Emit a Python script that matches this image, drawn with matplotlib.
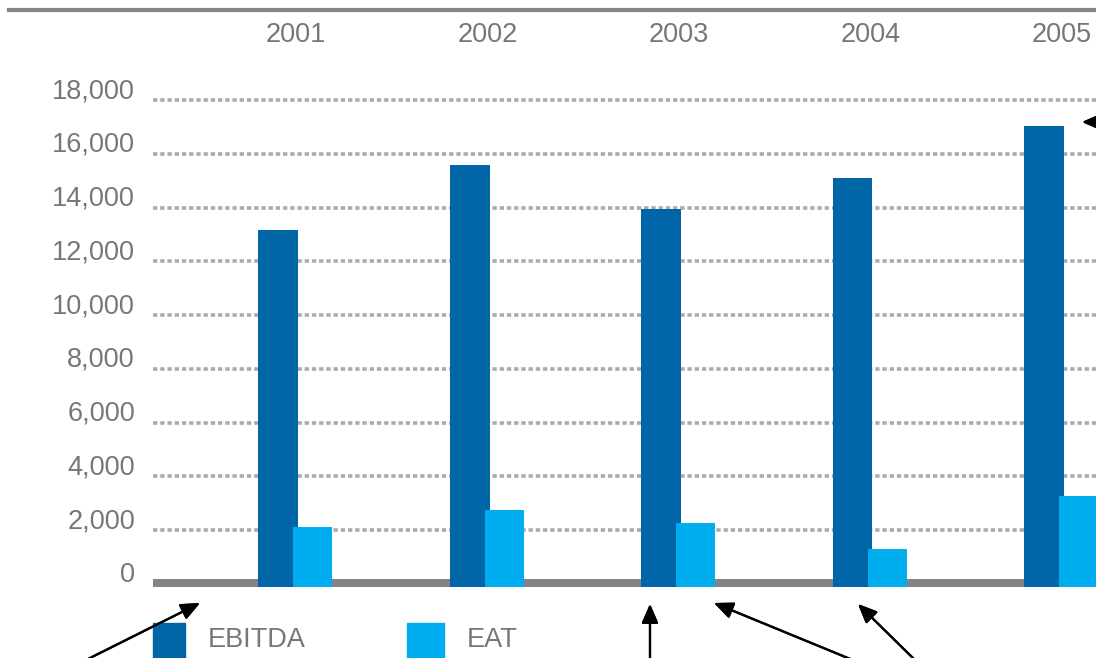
import matplotlib.pyplot as plt
from matplotlib.transforms import ScaledTranslation

years = ['2001', '2002', '2003', '2004', '2005']
ebitda = [13170, 15580, 13950, 15100, 17030]
eat = [2120, 2750, 2270, 1300, 3270]
y_ticks = [0, 2000, 4000, 6000, 8000, 10000, 12000, 14000, 16000, 18000]

dark_blue = '#0066a8'
light_blue = '#00adef'
grey = '#838388'
text_grey = '#777777'

plt.rcParams['font.family'] = ['Liberation Sans', 'DejaVu Sans']

W, H = 1096, 658
fig = plt.figure(figsize=(W / 100, H / 100), dpi=100)

# pixel layout of the plot area
zero_px, top_px = 584, 100
ppu = (zero_px - top_px) / 18000
ax_bottom_px, ax_top_px = 587, 95
left_px = 153
ax = fig.add_axes([left_px / W, (H - ax_bottom_px) / H,
                   (W - left_px) / W, (ax_bottom_px - ax_top_px) / H])
ymin = -(ax_bottom_px - zero_px) / ppu
ymax = 18000 + (top_px - ax_top_px) / ppu
ax.set_ylim(ymin, ymax)
ax.set_xlim(-0.747, 4.178)

x = list(range(len(years)))
ax.bar([i - 0.093 for i in x], [v - ymin for v in ebitda], width=0.207,
       bottom=ymin, color=dark_blue, zorder=3)
ax.bar([i + 0.087 for i in x], [v - ymin for v in eat], width=0.203,
       bottom=ymin, color=light_blue, zorder=4)

# thick grey baseline
ax.axhspan(ymin, 5 / ppu, color=grey, zorder=2, lw=0)

ax.set_yticks(y_ticks)
ax.set_yticklabels([f'{v:,}' for v in y_ticks])
ax.yaxis.grid(True, color='#ababab', linestyle=(0, (1.2, 0.8)), linewidth=2.6)
ax.set_axisbelow(True)
for gl in ax.yaxis.get_gridlines():
    gl.set_clip_on(False)
ax.tick_params(axis='y', length=0, pad=13, labelsize=19.5, labelcolor=text_grey)
offset = ScaledTranslation(0, 12 / 100, fig.dpi_scale_trans)
for lab in ax.get_yticklabels():
    lab.set_transform(lab.get_transform() + offset)

ax.xaxis.tick_top()
ax.set_xticks(x)
ax.set_xticklabels(years)
ax.tick_params(axis='x', length=0, pad=34, labelsize=19.5, labelcolor=text_grey)

for s in ax.spines.values():
    s.set_visible(False)

# top grey rule
fig.add_artist(plt.Line2D([9 / W, 1], [1 - 10 / H, 1 - 10 / H], color=grey,
                          lw=3, transform=fig.transFigure))

# legend
def px(xp, yp):
    return xp / W, 1 - yp / H

for (x0, x1, col, label, tx) in [(153, 185, dark_blue, 'EBITDA', 208),
                                 (407, 444, light_blue, 'EAT', 467)]:
    fig.add_artist(plt.Rectangle(px(x0, 658), (x1 - x0) / W, 35 / H,
                                 color=col, transform=fig.transFigure))
    fig.text(*px(tx, 640), label, fontsize=19.5, color=text_grey, va='center')

# annotation arrows
arrows = [((80, 663), (200, 603)),
          ((650, 670), (650, 604)),
          ((860, 663), (714, 603)),
          ((918, 663), (858, 604)),
          ((1130, 122), (1082, 122))]
for tail, tip in arrows:
    fig.add_artist(plt.annotate(
        '', xy=(tip[0], H - tip[1]), xycoords='figure pixels',
        xytext=(tail[0], H - tail[1]), textcoords='figure pixels',
        arrowprops=dict(arrowstyle='-|>,head_length=1.15,head_width=0.5',
                        color='black', lw=1.6, shrinkA=0, shrinkB=0),
        annotation_clip=False))

fig.savefig('out.png', dpi=100)
